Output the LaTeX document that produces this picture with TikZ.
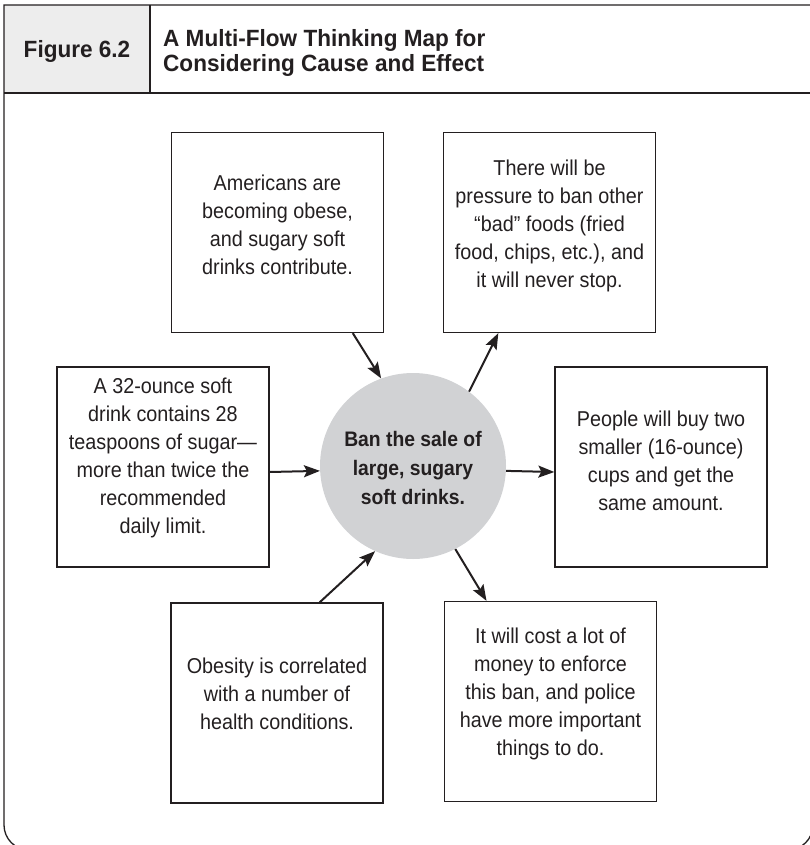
\documentclass[tikz,border=0pt]{standalone}
\usepackage{fontspec}
\setmainfont{Liberation Sans}
\newfontfamily\condfont[FakeStretch=0.92]{Liberation Sans}
\newfontfamily\headfont[FakeStretch=0.96]{Liberation Sans}
\usetikzlibrary{arrows.meta,calc}
\definecolor{ink}{HTML}{231F20}
\definecolor{discfill}{HTML}{D1D2D4}
\definecolor{headfill}{HTML}{EDEDED}
\begin{document}
\begin{tikzpicture}[x=1pt,y=-1pt,
  box/.style={draw=ink,line width=1.3pt,minimum width=212pt,minimum height=200pt,inner sep=0pt},
  txt/.style={text=ink,align=center,inner sep=0pt,anchor=north,font=\condfont\fontsize{21.5}{28}\selectfont},
  ctxt/.style={text=ink,align=center,inner sep=0pt,anchor=north,font=\condfont\bfseries\fontsize{21}{29}\selectfont},
  disc/.style={circle,fill=discfill,minimum size=186pt,inner sep=0pt},
  arr/.style={draw=ink,line width=2pt,-{Stealth[length=16pt,width=12pt,inset=3pt]}},
  frameline/.style={draw=ink,line width=1.3pt},
  headtxt/.style={text=ink,inner sep=0pt,font=\headfont\bfseries\fontsize{23.5}{25}\selectfont}]
\useasboundingbox (0,0) rectangle (810,845);
\begin{scope}
\clip (0,0) rectangle (810,845);
% header
\fill[headfill] (4,5) rectangle (150,93);
\draw[frameline] (4,5) -- (4,825) arc[start angle=180,end angle=270,radius=25pt] -- (788,850) arc[start angle=270,end angle=360,radius=25pt] -- (813,5) -- cycle;
\draw[frameline] (4,93) -- (813,93);
\draw[frameline] (150,5) -- (150,93);
\end{scope}
\node[headtxt,anchor=base] (fig) at (77,58) {Figure 6.2};
\node[headtxt,anchor=north west,align=left] (title) at (163,29) {A Multi-Flow Thinking Map for\\Considering Cause and Effect};
% boxes
\node[box] (tl) at (277.5,232.5) {};
\node[box] (tr) at (549.5,232.5) {};
\node[box] (lb) at (163,467) {};
\node[box] (rb) at (661,467) {};
\node[box] (bl) at (277,703) {};
\node[box] (br) at (550.5,701.5) {};
\node[disc] (c) at (413,466) {};
% texts
\node[txt] (tlt) at (277.5,174.5) {Americans are\\becoming obese,\\and sugary soft\\drinks contribute.};
\node[txt] (trt) at (549.5,159.5) {There will be\\pressure to ban other\\“bad” foods (fried\\food, chips, etc.), and\\it will never stop.};
\node[txt] (lbt) at (163,378) {A 32-ounce soft\\drink contains 28\\teaspoons of sugar—\\more than twice the\\recommended\\daily limit.};
\node[txt] (rbt) at (661,411) {People will buy two\\smaller (16-ounce)\\cups and get the\\same amount.};
\node[txt] (blt) at (277,657.5) {Obesity is correlated\\with a number of\\health conditions.};
\node[txt] (brt) at (550.5,627.5) {It will cost a lot of\\money to enforce\\this ban, and police\\have more important\\things to do.};
\node[ctxt] (ct) at (413,431.5) {Ban the sale of\\large, sugary\\soft drinks.};
% arrows
\draw[arr] ($(tl.south west)!0.853!(tl.south east)$) -- (c.110.6);
\draw[arr] (c.53) -- ($(tr.south west)!0.26!(tr.south east)$);
\draw[arr] ([yshift=-5pt]lb.east) -- (c.183.7);
\draw[arr] (c.-3.7) -- ([yshift=-5pt]rb.west);
\draw[arr] ($(bl.north west)!0.70!(bl.north east)$) -- (c.246);
\draw[arr] (c.-63) -- ($(br.north west)!0.20!(br.north east)$);
\end{tikzpicture}
\end{document}
